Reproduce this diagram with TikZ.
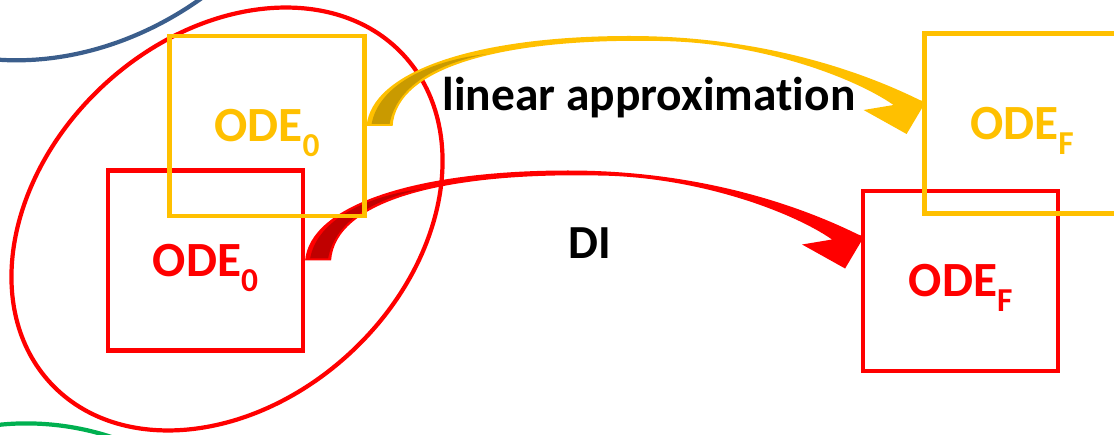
\documentclass[tikz,border=0pt]{standalone}
\usepackage{fontspec}
\setmainfont{Carlito}[Ligatures=NoCommon]
\usepackage{graphicx}
\definecolor{ppred}{RGB}{255,0,0}
\definecolor{ppreddark}{RGB}{192,0,0}
\definecolor{ppyellow}{RGB}{255,192,0}
\definecolor{ppyellowdark}{RGB}{201,154,0}
\definecolor{ppblue}{RGB}{59,94,140}
\definecolor{ppgreen}{RGB}{0,176,80}
\usetikzlibrary{shapes.geometric}
\newcommand{\lowidx}[1]{\raisebox{-0.3em}[0pt][0pt]{\scalebox{0.68}{#1}}}
\tikzset{
  odebox/.style={draw=#1, line width=2.4pt, minimum width=3.9cm, minimum height=3.6cm, inner sep=0pt, text=#1, font=\fontsize{28}{30}\selectfont\bfseries},
  arrowlabel/.style={font=\fontsize{27}{30}\selectfont\bfseries, anchor=base, inner sep=0pt},
  bentarrow/.pic={
    \fill[#1] (0,0) .. controls (5,-55) and (110,-90) .. (263,-90) .. controls (380,-90) and (480,-62) .. (553,-26) -- (559,-24) -- (540,8) -- (497,-16) -- (527,-21) .. controls (485,-50) and (390,-84) .. (293,-85) .. controls (140,-88) and (30,-60) .. (26,0) -- cycle;
    \fill[#1dark] (5,-2) .. controls (12,-40) and (60,-65) .. (120,-72) .. controls (70,-62) and (30,-40) .. (23,-2) -- cycle;
  }
}
\begin{document}
\begin{tikzpicture}[x=0.02cm, y=-0.02cm]
  \clip (0,0) rectangle (1114,435);

  % neighbouring sets, cut off at the edge
  \draw[ppblue, line width=2.4pt] (-10,59) .. controls (60,66) and (140,45) .. (210,-8);
  \draw[ppgreen, line width=2.4pt] (-10,426) .. controls (30,420) and (80,424) .. (125,442);
  \node[draw=ppred, line width=2.4pt, ellipse, minimum width=9.64cm, minimum height=7.28cm, inner sep=0pt, rotate=43] (cluster) at (227,219) {};

  % DI
  \node[odebox=ppred] (r0) at (205.5,260.5) {ODE\lowidx{0}};
  \node[odebox=ppred] (rF) at (960.75,281) {ODE\lowidx{F}};
  \pic at (r0.east) {bentarrow=ppred};

  % linear approximation
  \node[odebox=ppyellow] (y0) at (267,126) {ODE\lowidx{0}};
  \node[odebox=ppyellow] (yF) at (1022,123.5) {ODE\lowidx{F}};
  \pic at (y0.east) {bentarrow=ppyellow};

  \node[arrowlabel] (linlbl) at (649,111) {linear approximation};
  \node[arrowlabel] (dilbl) at (590,258) {DI};
\end{tikzpicture}
\end{document}
